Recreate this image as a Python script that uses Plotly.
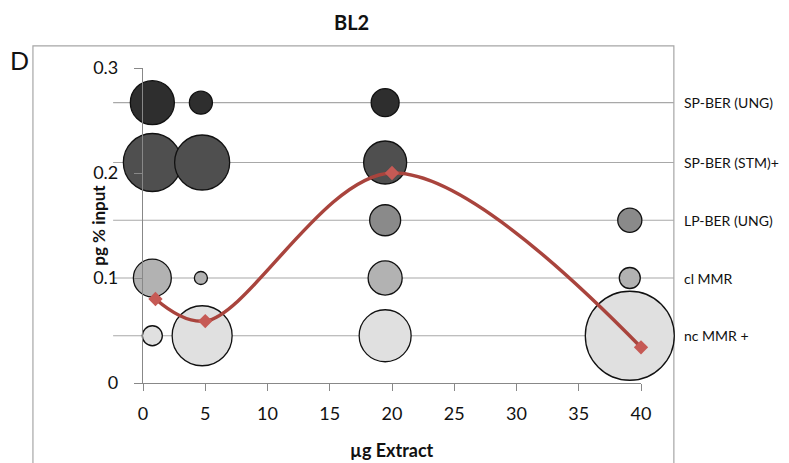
import plotly.graph_objects as go

# ---- data ----
rows = ["SP-BER (UNG)", "SP-BER (STM)+", "LP-BER (UNG)", "cl MMR", "nc MMR +"]
row_y = [0.267, 0.21, 0.155, 0.1, 0.045]
row_x = [
    [0.75, 4.65, 19.45],
    [0.75, 4.75, 19.45],
    [19.45, 39.1],
    [0.75, 4.65, 19.45, 39.1],
    [0.75, 4.75, 19.45, 39.1],
]
row_size = [
    [19.4, 5.3, 7.8],
    [33.6, 30.3, 18.5],
    [9.6, 5.8],
    [14.4, 1.7, 11.6, 4.4],
    [4.0, 36.0, 27.0, 79.2],
]
row_colors = ["#2e2e2e", "#4f4f4f", "#8a8a8a", "#b2b2b2", "#e0e0e0"]

line_x = [1, 5, 20, 40]
line_y = [0.08, 0.059, 0.2, 0.034]

x_ticks = [0, 5, 10, 15, 20, 25, 30, 35, 40]
y_ticks = [0, 0.1, 0.2, 0.3]

FONT = "Lato"
fig = go.Figure()

for name, y, xs, ss, c in zip(rows, row_y, row_x, row_size, row_colors):
    fig.add_trace(go.Scatter(
        x=xs, y=[y] * len(xs), mode="markers", name=name,
        marker=dict(size=ss, sizemode="area", sizeref=0.02, color=c,
                    opacity=1, line=dict(color="#111111", width=1.3)),
        cliponaxis=False, showlegend=False))

fig.add_trace(go.Scatter(
    x=line_x, y=line_y, mode="lines+markers",
    line=dict(color="#a9443d", width=3.5, shape="spline", smoothing=1.0),
    marker=dict(symbol="diamond", size=11, color="#c65a55"),
    cliponaxis=False, showlegend=False))

shapes = []
# frame
shapes.append(dict(type="rect", xref="paper", yref="paper",
                   x0=-0.221, x1=1.066, y0=-0.6, y1=1.07,
                   line=dict(color="#a6a6a6", width=1.2), layer="below"))
# category row lines
for y in row_y:
    shapes.append(dict(type="line", xref="paper", yref="y",
                       x0=-0.06, x1=1.066, y0=y, y1=y,
                       line=dict(color="#a8a8a8", width=1.2), layer="below"))

annotations = []
for name, y in zip(rows, row_y):
    annotations.append(dict(text=name, xref="paper", yref="y", x=1.082, y=y,
                            xanchor="left", yanchor="middle", showarrow=False,
                            font=dict(family=FONT, size=14, color="#111111")))
annotations += [
    dict(text="<b>BL2</b>", xref="paper", yref="paper", x=0.418, y=1.147,
         xanchor="center", yanchor="middle", showarrow=False,
         font=dict(family=FONT, size=20, color="#111111")),
    dict(text="D", xref="paper", yref="paper", x=-0.247, y=1.025,
         xanchor="center", yanchor="middle", showarrow=False,
         font=dict(family=FONT, size=25, color="#111111")),
    dict(text="<b>pg % input</b>", xref="paper", yref="paper", x=-0.09, y=0.5,
         xanchor="center", yanchor="middle", showarrow=False, textangle=-90,
         font=dict(family=FONT, size=17, color="#111111")),
    dict(text="<b>µg Extract</b>", xref="paper", yref="paper", x=0.5, y=-0.213,
         xanchor="center", yanchor="middle", showarrow=False,
         font=dict(family=FONT, size=18, color="#111111")),
]

fig.update_layout(
    width=789, height=463,
    margin=dict(l=143, r=148, t=68, b=80),
    paper_bgcolor="white", plot_bgcolor="white",
    shapes=shapes, annotations=annotations,
    font=dict(family=FONT, color="#111111"),
    xaxis=dict(range=[0, 40], tickvals=x_ticks, ticks="outside", ticklen=7,
               tickcolor="#888888", showgrid=False, zeroline=False,
               showline=True, linecolor="#888888", linewidth=1.2,
               tickfont=dict(family=FONT, size=18, color="#111111"),
               ticklabelstandoff=7),
    yaxis=dict(range=[0, 0.3], tickvals=y_ticks, ticktext=["0", "0.1", "0.2", "0.3"],
               ticks="outside", ticklen=8, tickcolor="#888888",
               showgrid=False, zeroline=False, showline=True,
               linecolor="#888888", linewidth=1.2,
               tickfont=dict(family=FONT, size=18, color="#111111"),
               ticklabelstandoff=12),
)

fig.write_html("out.html")
